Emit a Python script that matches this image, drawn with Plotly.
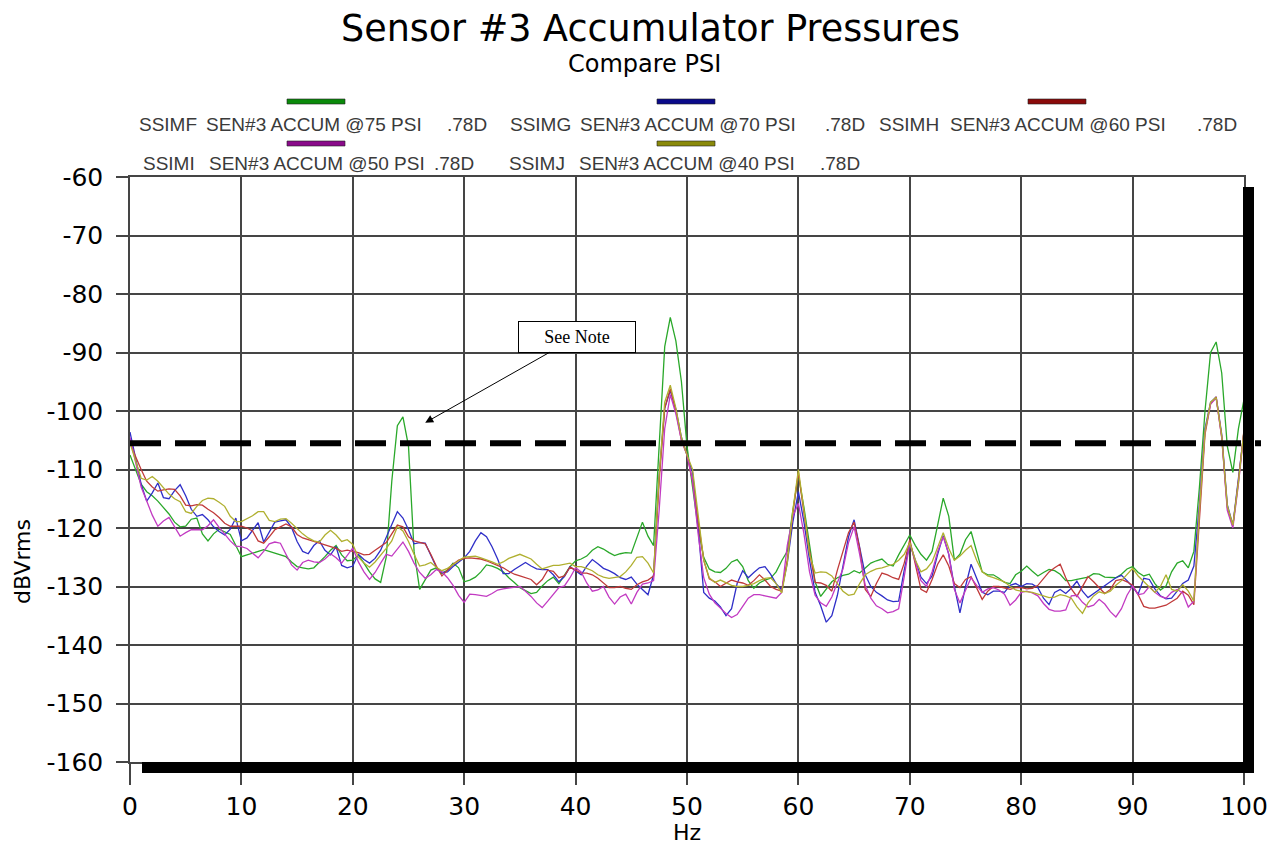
import plotly.graph_objects as go

# ---------------- data ----------------
FREQ_HZ = [i / 2 for i in range(201)]  # 0 .. 100 Hz, 0.5 Hz bins

SSIMF_75PSI = [
    -107.5, -110, -112.5, -113.8, -114.5, -115.4, -116.5, -117.6, -119, -119.8, -119.7, -118.5, -118.3, -121, -122.2, -121, -120.2, -120.6, -121.1, -123,
    -124.9, -124.6, -124.3, -124, -123.7, -124, -124.3, -124.6, -124.9, -125.8, -126.6, -126.8, -127, -126.8, -125.9, -124.9, -123.8, -123, -124.6, -125.6,
    -125.5, -124.6, -126, -127.5, -128.7, -129.3, -125, -112, -102.5, -101, -106, -124, -130.5, -128.8, -127.2, -126.8, -127.8, -127.2, -126, -126.8,
    -129.2, -128.9, -128.4, -127.5, -126.3, -126.5, -126.9, -127.5, -128.5, -129.3, -130.2, -130.7, -131.2, -131, -129.9, -129, -128.4, -129.5, -128, -126.6,
    -125.6, -125.3, -124.8, -123.8, -123.2, -123.6, -124.2, -124.7, -124.4, -124.2, -124.3, -121.5, -119, -121.4, -123, -106, -89, -84, -88, -95,
    -106, -113, -120, -125, -127, -127.5, -127.6, -126.9, -125.8, -125.4, -126.6, -129, -130.3, -129.4, -128.9, -128.6, -127.5, -125.6, -124, -117,
    -111, -116.5, -123, -129.2, -131.7, -130.4, -129.2, -128.5, -128.1, -127.9, -127.3, -127.7, -126.8, -126, -125.6, -125.3, -126.2, -126.5, -124.6, -123,
    -121.2, -123, -124.5, -125.5, -124, -119.5, -114.9, -118, -125.5, -124.5, -122, -120.6, -124, -127.5, -128, -128, -128.6, -129.3, -129.5, -128,
    -127.4, -126.5, -127.4, -128.2, -127.6, -127.1, -127.3, -127.9, -129, -129, -128.8, -128.6, -128.4, -127.8, -127.9, -128.4, -128.5, -128.5, -127.9, -127,
    -126.6, -127.6, -128.2, -127.9, -129.5, -130.6, -129.9, -127.5, -126, -125.6, -126.8, -124, -113, -100, -90, -88.2, -93.5, -106, -110.5, -103,
    -98,
]

SSIMG_70PSI = [
    -103.6, -108, -112.5, -115.4, -114, -112.3, -114.8, -115, -113.6, -112.6, -114.5, -116.8, -118, -117.7, -118.6, -119.8, -120.6, -121.2, -120.2, -118.3,
    -122.2, -121.7, -120.3, -119.1, -122.4, -120.8, -119, -118.8, -118.6, -119.9, -122.3, -124, -124.4, -123, -122.2, -123.8, -124.6, -123.2, -126.4, -126.8,
    -126.5, -124.5, -125.4, -126, -125.2, -123.8, -121.6, -119.5, -117.2, -118.3, -120.3, -122.7, -122.5, -122.6, -124.8, -126.7, -127.6, -127.5, -126.6, -125.9,
    -125.1, -124, -122.2, -120.8, -121.5, -123.2, -125.3, -127.8, -127.8, -127.1, -126.5, -125.9, -126.5, -127, -127.1, -127.1, -128, -129.2, -128.3, -126.6,
    -127.3, -128, -126.5, -125.4, -126.1, -126.9, -127.3, -127.8, -128.5, -128.8, -128.4, -129.6, -130.5, -131.4, -128, -111, -99.5, -96.5, -99.7, -104.5,
    -107.5, -110.5, -120, -131, -132, -132.5, -133.5, -135, -133.8, -129.5, -127.3, -128.5, -127.6, -126.8, -126.6, -127.9, -129.5, -130.6, -126, -119,
    -113.8, -119, -125.5, -131, -133.3, -136.1, -135, -131.5, -126.5, -121.5, -118.6, -123.5, -128, -130, -131, -131.6, -132.3, -132.6, -132.5, -127.2,
    -122.6, -125.5, -128.4, -129.5, -128.2, -124.5, -121.3, -124.5, -130, -134.5, -130, -126.2, -128.5, -131, -131.4, -130.8, -130.8, -131, -129.8, -129.5,
    -130, -129.5, -129.6, -130.2, -132, -133.1, -131, -130.5, -131.2, -130.3, -129.1, -130.8, -131.9, -131.2, -130.5, -129.9, -129.2, -128.5, -128.1, -129,
    -130.1, -131.3, -128.6, -128.8, -130.4, -131.6, -132.1, -132, -130.8, -129.5, -128.9, -126.5, -116, -103, -98.5, -97.6, -104, -116, -119.5, -112,
    -103.5,
]

SSIMH_60PSI = [
    -105.2, -107.8, -110, -112, -113, -113.7, -113.5, -113.3, -113.4, -114.5, -116.1, -116.2, -116, -116.1, -116.8, -117.4, -118.2, -119.2, -119.7, -119.7,
    -119.7, -120, -120.5, -122.2, -122.6, -121.5, -120.3, -119.8, -119.3, -119.8, -121.1, -121.7, -122, -122.3, -122.5, -122.8, -123.1, -123.5, -124, -123.8,
    -124, -124.2, -124.6, -124.5, -123.8, -123.2, -122.5, -121, -119.5, -119.8, -121.5, -122.2, -122.4, -122.7, -124.5, -126.5, -128.2, -127.2, -126.2, -125.5,
    -125.2, -125.1, -125.2, -125.3, -125.6, -126, -126.3, -126.8, -127.4, -127.9, -128.2, -128.5, -128.8, -129.7, -128.8, -127.2, -127.4, -128.5, -128.2, -126.7,
    -127.2, -127.7, -127.7, -128, -128.6, -129.4, -130.2, -130.2, -130, -130.3, -130.5, -129.7, -129.2, -128.9, -128.2, -112, -99.5, -96.2, -100, -105,
    -107.5, -112, -119, -125.5, -128.7, -129.2, -130, -129.4, -128.9, -129.2, -129.4, -129.8, -129, -128, -128.9, -130, -130.5, -130.8, -125.5, -117.5,
    -110.5, -117.5, -124, -129.3, -129.4, -129.8, -130.8, -127.2, -124, -120.8, -119, -123.5, -130.5, -131.7, -129.5, -127.7, -128, -128.5, -128.8, -126,
    -122, -126.5, -130.5, -131, -128.8, -126.2, -124.6, -126.5, -129.5, -130.2, -128.8, -128.3, -130.3, -132.2, -130.8, -130, -130, -130.2, -130.5, -130.2,
    -130.2, -130.4, -130.3, -129.8, -128.6, -127.5, -126.8, -126.2, -128.5, -130.4, -131.7, -130, -128.3, -129.2, -130.2, -131.2, -130.5, -129, -128.8, -129.2,
    -129.8, -131.4, -133.4, -133.7, -133.7, -133.5, -133.2, -132.6, -132, -130.8, -131.5, -133.1, -118, -104, -98.8, -97.6, -104.5, -116.5, -119.6, -112,
    -103.2,
]

SSIMI_50PSI = [
    -104.5, -109, -113, -115.4, -117.8, -119.7, -118.8, -118.2, -119.8, -121.4, -120.8, -120.3, -120.3, -120.3, -119.6, -118.6, -119.9, -121.1, -122.2, -123.1,
    -123.2, -123.5, -124.3, -125.1, -124, -122.7, -122.4, -122.6, -124.5, -126.3, -127.2, -125.9, -125.5, -125.8, -125.9, -125.3, -124.4, -125.1, -126, -124.8,
    -123.4, -125.8, -127.5, -128.8, -127.6, -126, -124.5, -124.8, -123.6, -122.4, -124, -126, -127.6, -128.6, -128, -127.1, -127.5, -128.5, -129.8, -131.5,
    -132.7, -131.3, -131.4, -131.6, -131.7, -131.2, -130.6, -130.4, -130.3, -130.1, -130, -130.8, -131.7, -132.8, -133.6, -132.5, -131.3, -130.2, -129.9, -128.5,
    -126.8, -127.5, -129.4, -130.8, -130.6, -130, -131.8, -133, -131.8, -131.3, -133, -131, -129.6, -129.4, -129, -117, -103, -97.2, -100.5, -105,
    -107.5, -112, -121, -128.5, -131.3, -132.8, -133.7, -134.6, -135.3, -134.8, -133.4, -132, -131.4, -131.4, -131.6, -131.8, -132, -131, -123, -118,
    -115.8, -121, -127.5, -131.5, -132.8, -133.4, -131.8, -129.3, -127, -122.5, -119.8, -124.5, -129.8, -132, -133.3, -133.8, -134.5, -134.3, -133.8, -128.3,
    -122.6, -125.8, -129, -130, -127.5, -124, -121.5, -124.5, -130.5, -132.8, -130.6, -128.5, -129.8, -131, -130.4, -130.2, -130.6, -131.3, -133.2, -132.3,
    -131, -130.8, -131.1, -131.6, -132.9, -133.9, -134.2, -134.2, -134, -131.6, -131.5, -132.7, -133.5, -133.2, -132.2, -133, -134.3, -135.2, -133.8, -131.5,
    -129.9, -131.4, -131.2, -130, -131, -131.7, -132, -131, -130.5, -131.1, -133.5, -132.5, -116.5, -103.5, -98.8, -97.8, -104.5, -117, -120, -112.5,
    -103.6,
]

SSIMJ_40PSI = [
    -105.5, -108.5, -111.5, -111.8, -111.2, -112, -113.2, -114.2, -115, -115.5, -117.2, -117.5, -116.3, -115.3, -114.9, -115, -115.6, -116.3, -118, -118.9,
    -118.9, -118.4, -117.9, -117.2, -117.2, -118.7, -118.9, -118.5, -118.4, -119.2, -120.1, -121, -121.7, -122.2, -122.4, -121.2, -120.4, -121.2, -122.3, -122,
    -122.8, -125, -126, -126.7, -125.8, -124.7, -123.5, -122.2, -119.8, -120.5, -122.3, -124.5, -126.5, -126.3, -125.9, -126.7, -127.3, -126.9, -126.2, -125.6,
    -125, -124.9, -124.8, -125.1, -125.4, -125.8, -126.2, -125.8, -125.2, -124.9, -124.5, -124.9, -125.3, -126.2, -127, -126.7, -126.4, -126.4, -126.2, -126,
    -126.6, -126.6, -126.9, -127.3, -128, -128.4, -128.6, -128.5, -128.3, -127.5, -126.4, -125, -124.9, -126, -127.7, -111, -98.5, -95.6, -99.5, -104.5,
    -107.5, -110, -118, -125.5, -128.5, -129.3, -128.9, -129.3, -129.8, -130, -130, -129.8, -129.5, -129, -128.6, -128.5, -129.5, -131.1, -126, -117,
    -110, -117, -124.5, -127.7, -127.5, -127.6, -128.2, -129.5, -130.8, -131.5, -131.3, -129.5, -128, -127.4, -127, -126.8, -126.5, -126.2, -125.5, -124.5,
    -122.5, -125.5, -127.5, -127, -125.8, -123.2, -120.8, -123.5, -125.5, -124.8, -123.8, -123, -125.5, -127.5, -128.2, -128.5, -128.8, -129.2, -130, -130.6,
    -130.8, -130.9, -131, -131.3, -131.6, -131.9, -131.8, -131.4, -131.6, -132, -133.5, -134.6, -132.8, -131.6, -130.9, -131.2, -130.8, -129.8, -129, -127.9,
    -126.9, -128.2, -129.2, -130.1, -131, -130, -128, -130.5, -130.8, -129.7, -130.8, -132.5, -117, -103.5, -98.5, -97.7, -104.2, -116.2, -119.5, -112.2,
    -103.3,
]

SERIES_IDS = ["SSIMF", "SSIMG", "SSIMH", "SSIMI", "SSIMJ"]
SERIES_LABELS = [
    "SEN#3 ACCUM @75 PSI",
    "SEN#3 ACCUM @70 PSI",
    "SEN#3 ACCUM @60 PSI",
    "SEN#3 ACCUM @50 PSI",
    "SEN#3 ACCUM @40 PSI",
]
SERIES_SUFFIX = ".78D"
SERIES_VALUES = [SSIMF_75PSI, SSIMG_70PSI, SSIMH_60PSI, SSIMI_50PSI, SSIMJ_40PSI]

THRESHOLD_DBV = -105.5
NOTE_TEXT = "See Note"
NOTE_POINT = (26.5, -102.0)

X_TICKS = [0, 10, 20, 30, 40, 50, 60, 70, 80, 90, 100]
Y_TICKS = [-160, -150, -140, -130, -120, -110, -100, -90, -80, -70, -60]
Y_TICK_TEXT = ["-160", "-150", "-140", "-130", "-120", "-110", "-100", "-90", "-80", "-70", "-60"]

TITLE = "Sensor #3 Accumulator Pressures"
SUBTITLE = "Compare PSI"
X_TITLE = "Hz"
Y_TITLE = "dBVrms"

# ---------------- styling ----------------
LINE_COLORS = ["#2aa82a", "#2f2fc8", "#c03a3a", "#c23ac2", "#b0b030"]
SWATCH_COLORS = ["#0a8a0a", "#0a0a8a", "#8a0a0a", "#8a0a8a", "#8a8a0a"]

# page has an 8px body margin: figure is drawn from screen (8, 8)
OFF = 8
W, H = 1276 - 2 * OFF, 848 - OFF
SL, ST, SR, SB = 130, 177, 1244, 762          # plot area in screen pixels
ML, MT = SL - OFF, ST - OFF
MR, MB = W - (SR - OFF), H - (SB - OFF)
PW = SR - SL
PH = SB - ST


def px(x):
    return (x - SL) / PW


def py(y):
    return (SB - y) / PH


SANS = "DejaVu Sans"
LEG_FONT = "Liberation Sans"
GRID = "#454545"

fig = go.Figure()
for name, label, vals, col in zip(SERIES_IDS, SERIES_LABELS, SERIES_VALUES, LINE_COLORS):
    fig.add_trace(go.Scatter(
        x=FREQ_HZ, y=vals, mode="lines", name=f"{name} {label} {SERIES_SUFFIX}",
        line=dict(color=col, width=1.3), showlegend=False,
    ))

annotations = []
shapes = []

# custom legend: swatch above the label, two rows
legend_layout = [
    # (row, id_x, label_x, end_x, swatch_x0)
    (0, 137, 204, 489, 287),
    (0, 508, 578, 867, 657),
    (0, 877, 948, 1239, 1028),
    (1, 141, 207, 476, 287),
    (1, 507, 577, 862, 657),
]
row_text_y = [124, 163]
row_sw_y = [(99, 104), (141, 146)]
for i, (row, idx, lx, ex, sx) in enumerate(legend_layout):
    ty = py(row_text_y[row])
    f = dict(family=LEG_FONT, size=19, color="#3a3a3a")
    annotations.append(dict(x=px(idx), y=ty, xref="paper", yref="paper", text=SERIES_IDS[i],
                            showarrow=False, xanchor="left", yanchor="middle", font=f))
    annotations.append(dict(x=px(lx), y=ty, xref="paper", yref="paper", text=SERIES_LABELS[i],
                            showarrow=False, xanchor="left", yanchor="middle", font=f))
    annotations.append(dict(x=px(ex), y=ty, xref="paper", yref="paper", text=SERIES_SUFFIX,
                            showarrow=False, xanchor="right", yanchor="middle", font=f))
    y0, y1 = row_sw_y[row]
    shapes.append(dict(type="rect", xref="paper", yref="paper", x0=px(sx), x1=px(sx + 58),
                       y0=py(y1), y1=py(y0), fillcolor=SWATCH_COLORS[i],
                       line=dict(color="#202020", width=0.6)))

# titles
annotations.append(dict(x=px(650), y=py(28), xref="paper", yref="paper", text=TITLE, showarrow=False,
                        xanchor="center", yanchor="middle", font=dict(family=SANS, size=36.5, color="black")))
annotations.append(dict(x=px(644), y=py(64), xref="paper", yref="paper", text=SUBTITLE, showarrow=False,
                        xanchor="center", yanchor="middle", font=dict(family=SANS, size=24, color="black")))
annotations.append(dict(x=px(687), y=py(832), xref="paper", yref="paper", text=X_TITLE, showarrow=False,
                        xanchor="center", yanchor="middle", font=dict(family=SANS, size=22, color="black")))
annotations.append(dict(x=px(22), y=py(562), xref="paper", yref="paper", text=Y_TITLE, showarrow=False,
                        textangle=-90, xanchor="center", yanchor="middle",
                        font=dict(family=SANS, size=22, color="black")))

# note with arrow
annotations.append(dict(x=NOTE_POINT[0], y=NOTE_POINT[1], xref="x", yref="y", text=NOTE_TEXT,
                        showarrow=True, ax=152, ay=-86, arrowhead=2, arrowsize=1.6, arrowwidth=1,
                        arrowcolor="black", font=dict(family="Liberation Serif", size=18, color="black"),
                        bordercolor="black", borderwidth=1, borderpad=3, bgcolor="white",
                        width=110, height=24))

# black drop-shadow bars (bottom and right)
shapes.append(dict(type="rect", xref="paper", yref="paper", x0=px(142), x1=px(1254),
                   y0=py(773), y1=py(762), fillcolor="black", line=dict(width=0), layer="above"))
shapes.append(dict(type="rect", xref="paper", yref="paper", x0=px(1243), x1=px(1254),
                   y0=py(773), y1=py(187), fillcolor="black", line=dict(width=0), layer="above"))
# threshold dashed line
shapes.append(dict(type="line", xref="paper", yref="y", x0=0, x1=px(1261),
                   y0=THRESHOLD_DBV, y1=THRESHOLD_DBV,
                   line=dict(color="black", width=6, dash="31px,14px"), layer="above"))

fig.update_layout(
    width=W, height=H,
    margin=dict(l=ML, r=MR, t=MT, b=MB, pad=0, autoexpand=False),
    paper_bgcolor="white", plot_bgcolor="white",
    annotations=annotations, shapes=shapes,
    showlegend=False,
    xaxis=dict(range=[0, 100], tickvals=X_TICKS, showgrid=True, gridcolor=GRID, gridwidth=1.5,
               zeroline=False, showline=True, linecolor=GRID, linewidth=1.5, mirror=True,
               ticks="outside", ticklen=21, tickwidth=1.5, tickcolor=GRID, automargin=False,
               tickfont=dict(family=SANS, size=25, color="black"), ticklabelstandoff=0),
    yaxis=dict(range=[-160, -60], tickvals=Y_TICKS, ticktext=Y_TICK_TEXT, showgrid=True,
               gridcolor=GRID, gridwidth=1.5, automargin=False,
               zeroline=False, showline=True, linecolor=GRID, linewidth=1.5, mirror=True,
               ticks="outside", ticklen=12, tickwidth=1.5, tickcolor=GRID,
               tickfont=dict(family=SANS, size=25, color="black"), ticklabelstandoff=8),
)

fig.write_html("out.html")
